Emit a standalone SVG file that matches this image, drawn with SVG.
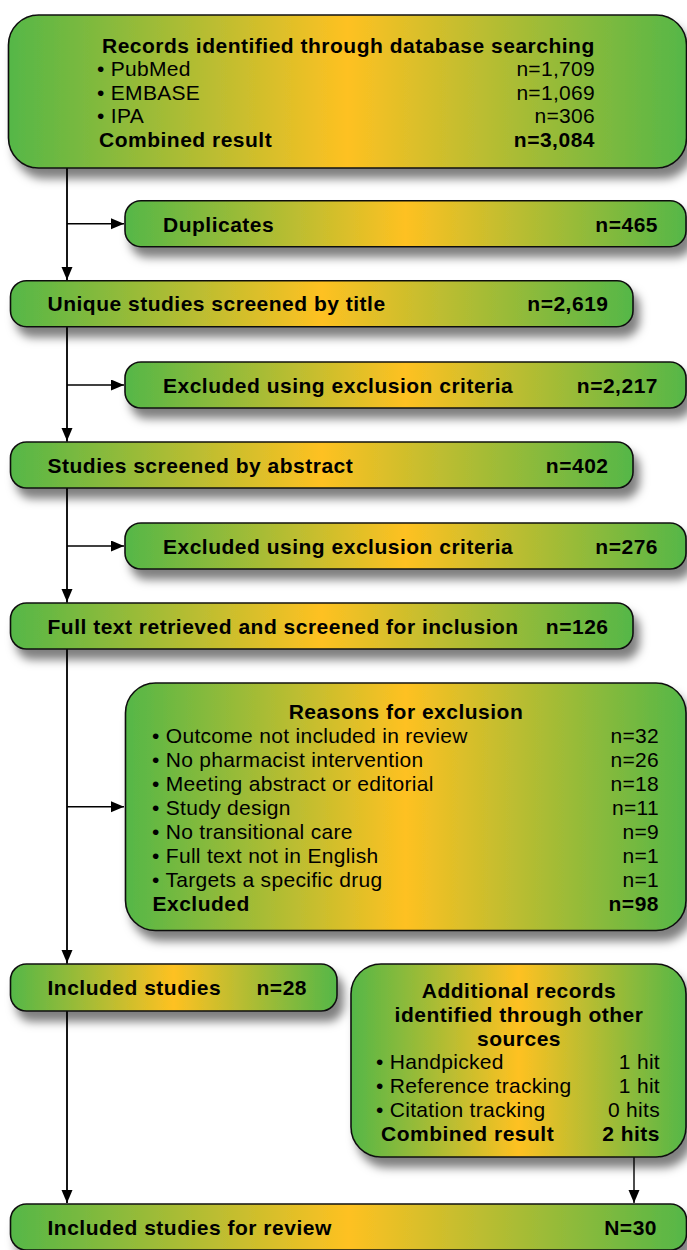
<svg xmlns="http://www.w3.org/2000/svg" width="687" height="1250" viewBox="0 0 687 1250">
<defs>
<linearGradient id="g" x1="0" y1="0" x2="1" y2="0">
<stop offset="0" stop-color="#55b747"/>
<stop offset="0.5" stop-color="#fec122"/>
<stop offset="1" stop-color="#55b747"/>
</linearGradient>
<filter id="sh" x="-10%" y="-20%" width="130%" height="170%">
<feDropShadow dx="6" dy="10" stdDeviation="5" flood-color="#000" flood-opacity="0.5"/>
</filter>
<marker id="ah" markerUnits="userSpaceOnUse" markerWidth="14" markerHeight="12" refX="13" refY="5.5" orient="auto">
<path d="M0,0 L13,5.5 L0,11 z" fill="#000"/>
</marker>
<style>
.box{fill:url(#g);stroke:#111;stroke-width:1.6;filter:url(#sh)}
.b{font-family:"Liberation Sans",Arial,sans-serif;font-weight:bold;font-size:21px;letter-spacing:0.5px;fill:#000}
.r{font-family:"Liberation Sans",Arial,sans-serif;font-size:21px;letter-spacing:0.3px;fill:#000}
.e{text-anchor:end}
.m{text-anchor:middle}
.c{fill:none;stroke:#000;stroke-width:1.4}
</style>
</defs>

<g id="connectors">
<path class="c" d="M67,168 V1203" />
<path class="c" d="M67,168 V280" marker-end="url(#ah)"/>
<path class="c" d="M67,327 V441" marker-end="url(#ah)"/>
<path class="c" d="M67,488 V602" marker-end="url(#ah)"/>
<path class="c" d="M67,649 V963" marker-end="url(#ah)"/>
<path class="c" d="M67,1011 V1203" marker-end="url(#ah)"/>
<path class="c" d="M67,223.7 H124" marker-end="url(#ah)"/>
<path class="c" d="M67,385 H124" marker-end="url(#ah)"/>
<path class="c" d="M67,546 H124" marker-end="url(#ah)"/>
<path class="c" d="M67,806.7 H124" marker-end="url(#ah)"/>
<path class="c" d="M634,1157 V1203" marker-end="url(#ah)"/>
</g>

<g id="n1">
<rect class="box" x="8.5" y="15" width="678" height="153" rx="30"/>
<text class="b" x="102" y="52.5">Records identified through database searching</text>
<text class="r" x="97" y="76">• PubMed</text>
<text class="r e" x="595" y="76">n=1,709</text>
<text class="r" x="97" y="99.5">• EMBASE</text>
<text class="r e" x="595" y="99.5">n=1,069</text>
<text class="r" x="97" y="123">• IPA</text>
<text class="r e" x="595" y="123">n=306</text>
<text class="b" x="99" y="147">Combined result</text>
<text class="b e" x="595" y="147">n=3,084</text>
</g>

<g id="n2">
<rect class="box" x="125" y="200.7" width="561" height="46" rx="16"/>
<text class="b" x="163" y="231.5">Duplicates</text>
<text class="b e" x="658" y="231.5">n=465</text>
</g>

<g id="n3">
<rect class="box" x="10.5" y="280.7" width="622.5" height="46" rx="16"/>
<text class="b" x="47.5" y="311">Unique studies screened by title</text>
<text class="b e" x="608.5" y="311">n=2,619</text>
</g>

<g id="n4">
<rect class="box" x="125" y="362" width="561" height="46" rx="16"/>
<text class="b" x="163" y="392.5">Excluded using exclusion criteria</text>
<text class="b e" x="658" y="392.5">n=2,217</text>
</g>

<g id="n5">
<rect class="box" x="10.5" y="442" width="622.5" height="46" rx="16"/>
<text class="b" x="47.5" y="472.5">Studies screened by abstract</text>
<text class="b e" x="608.5" y="472.5">n=402</text>
</g>

<g id="n6">
<rect class="box" x="125" y="523" width="561" height="46" rx="16"/>
<text class="b" x="163" y="553.5">Excluded using exclusion criteria</text>
<text class="b e" x="658" y="553.5">n=276</text>
</g>

<g id="n7">
<rect class="box" x="10.5" y="603" width="622.5" height="46" rx="16"/>
<text class="b" x="47.5" y="633.5">Full text retrieved and screened for inclusion</text>
<text class="b e" x="608.5" y="633.5">n=126</text>
</g>

<g id="n8">
<rect class="box" x="125.5" y="683" width="560.5" height="247.5" rx="30"/>
<text class="b m" x="406" y="719">Reasons for exclusion</text>
<text class="r" x="152" y="742.7">• Outcome not included in review</text>
<text class="r e" x="659" y="742.7">n=32</text>
<text class="r" x="152" y="766.7">• No pharmacist intervention</text>
<text class="r e" x="659" y="766.7">n=26</text>
<text class="r" x="152" y="790.7">• Meeting abstract or editorial</text>
<text class="r e" x="659" y="790.7">n=18</text>
<text class="r" x="152" y="814.7">• Study design</text>
<text class="r e" x="659" y="814.7">n=11</text>
<text class="r" x="152" y="838.7">• No transitional care</text>
<text class="r e" x="659" y="838.7">n=9</text>
<text class="r" x="152" y="862.7">• Full text not in English</text>
<text class="r e" x="659" y="862.7">n=1</text>
<text class="r" x="152" y="886.7">• Targets a specific drug</text>
<text class="r e" x="659" y="886.7">n=1</text>
<text class="b" x="152.5" y="910.7">Excluded</text>
<text class="b e" x="659" y="910.7">n=98</text>
</g>

<g id="n9">
<rect class="box" x="10.5" y="964" width="326.5" height="47" rx="16"/>
<text class="b" x="47.5" y="995">Included studies</text>
<text class="b e" x="307" y="995">n=28</text>
</g>

<g id="n10">
<rect class="box" x="351" y="964" width="335" height="193" rx="30"/>
<text class="b m" x="519" y="997.7">Additional records</text>
<text class="b m" x="519" y="1021.7">identified through other</text>
<text class="b m" x="519" y="1045.7">sources</text>
<text class="r" x="376" y="1069.3">• Handpicked</text>
<text class="r e" x="660" y="1069.3">1 hit</text>
<text class="r" x="376" y="1093.3">• Reference tracking</text>
<text class="r e" x="660" y="1093.3">1 hit</text>
<text class="r" x="376" y="1117.3">• Citation tracking</text>
<text class="r e" x="660" y="1117.3">0 hits</text>
<text class="b" x="381" y="1141">Combined result</text>
<text class="b e" x="660" y="1141">2 hits</text>
</g>

<g id="n11">
<rect class="box" x="10.5" y="1204" width="676" height="46" rx="16"/>
<text class="b" x="47.5" y="1235">Included studies for review</text>
<text class="b e" x="657" y="1235">N=30</text>
</g>
</svg>
